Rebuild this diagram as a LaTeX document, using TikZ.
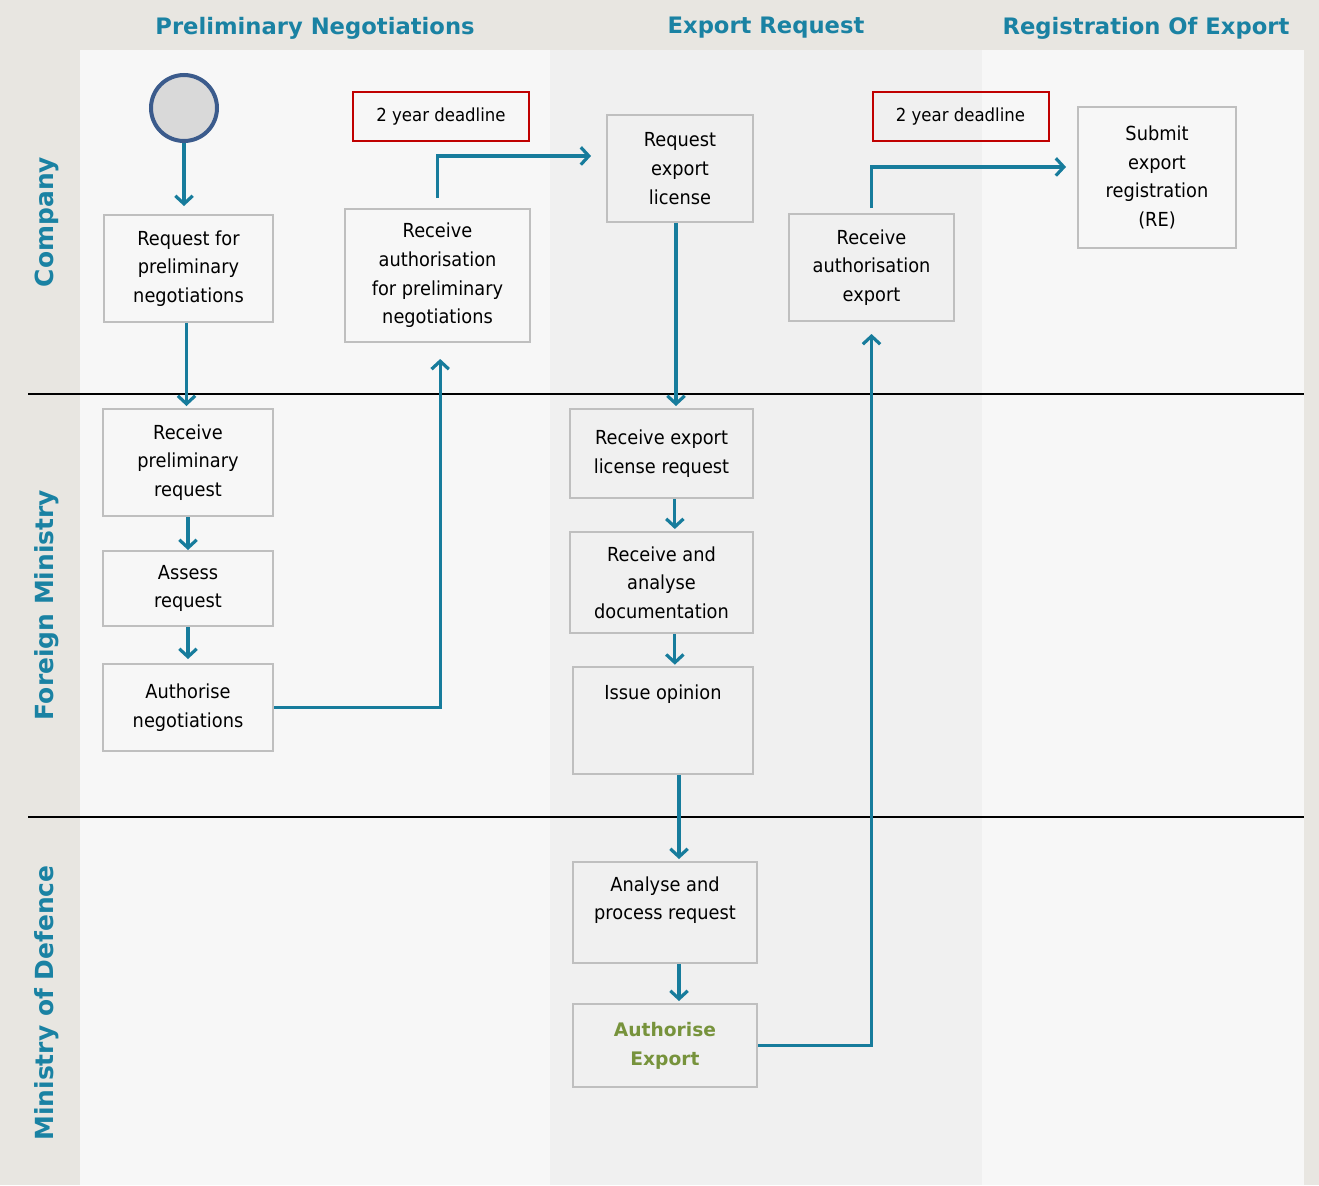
\documentclass[tikz,border=0pt]{standalone}
\usepackage{fontspec}
\setmainfont{DejaVu Sans}[FakeStretch=0.92]
\newfontfamily\headfont{DejaVu Sans}
\usetikzlibrary{arrows.meta}

\definecolor{flowblue}{HTML}{177C9C}
\definecolor{headblue}{HTML}{1A82A3}
\definecolor{boxgray}{HTML}{BFBFBF}
\definecolor{outerbg}{HTML}{E8E6E1}
\definecolor{lanebg}{HTML}{F7F7F7}
\definecolor{midbg}{HTML}{F0F0F0}
\definecolor{deadred}{HTML}{C00000}
\definecolor{okgreen}{HTML}{77933C}
\definecolor{startblue}{HTML}{3B5B8C}
\definecolor{startgray}{HTML}{D9D9D9}

\tikzset{every picture/.style={line width=0.75pt}}
\tikzset{
  task/.style={draw=boxgray, line width=1.5pt, align=center, inner sep=0pt, font=\fontsize{14.5}{21.5}\selectfont},
  deadline/.style={draw=deadred, line width=1.5pt, minimum width=132pt, minimum height=36.75pt, font=\fontsize{13.5}{15}\selectfont},
  flow/.style={draw=flowblue, line width=2.4pt, -{Straight Barb[length=6pt,width=13pt]}},
  coltitle/.style={text=headblue, inner sep=0pt, font=\headfont\bfseries\fontsize{17}{20}\selectfont},
  lanetitle/.style={text=headblue, inner sep=0pt, rotate=90, font=\headfont\bfseries\fontsize{18.7}{22}\selectfont},
}

\begin{document}
\begin{tikzpicture}[x=0.75pt,y=0.75pt,yscale=-1]
\useasboundingbox (0,0) rectangle (1319,1185);

%Background and lanes
\fill[outerbg] (0,0) rectangle (1319,1185);
\fill[lanebg] (80,50) rectangle (1304,1185);
\fill[midbg] (550,50) rectangle (982,1185);
%Straight Lines
\draw[line width=1.1pt] (28,394) -- (1304,394);
\draw[line width=1.1pt] (28,817) -- (1304,817);

% Column titles
\node[coltitle] (colPre) at (315,28) {Preliminary Negotiations};
\node[coltitle] (colReq) at (766,28) {Export Request};
\node[coltitle] (colReg) at (1146,28) {Registration Of Export};
% Lane titles
\node[lanetitle] (laneCo) at (47,222) {Company};
\node[lanetitle] (laneFM) at (47,605) {Foreign Ministry};
\node[lanetitle] (laneMD) at (47,1003) {Ministry of Defence};

%Start event
\node[circle, draw=startblue, fill=startgray, line width=3pt, minimum size=49.5pt] (start) at (184,108) {};

% Company lane
\node[task, minimum width=126.75pt, minimum height=80.25pt] (req) at (188.5,268.5) {Request for\\preliminary\\negotiations};
\node[task, minimum width=138.75pt, minimum height=99.75pt] (recAuth) at (437.5,275.5) {Receive\\authorisation\\for preliminary\\negotiations};
\node[deadline] (deadA) at (441,116.5) {2 year deadline};
\node[task, minimum width=109.5pt, minimum height=80.25pt] (reqExp) at (680,168.5) {Request\\export\\license};
\node[deadline] (deadB) at (960.5,116.5) {2 year deadline};
\node[task, minimum width=123.75pt, minimum height=80.25pt] (recAuthExp) at (871.5,267.5) {Receive\\authorisation\\export};
\node[task, minimum width=118.5pt, minimum height=105.75pt] (submit) at (1157,177.5) {Submit\\export\\registration\\(RE)};

% Foreign Ministry lane
\node[task, minimum width=127.5pt, minimum height=80.25pt] (recPre) at (188,462.5) {Receive\\preliminary\\request};
\node[task, minimum width=127.5pt, minimum height=56.25pt] (assess) at (188,588.5) {Assess\\request};
\node[task, minimum width=127.5pt, minimum height=65.25pt] (authNeg) at (188,707.5) {Authorise\\negotiations};
\node[task, minimum width=137.25pt, minimum height=66.75pt] (recExpLic) at (661.5,453.5) {Receive export\\license request};
\node[task, minimum width=137.25pt, minimum height=75.75pt] (recAnalyse) at (661.5,582.5) {Receive and\\analyse\\documentation};
\node[task, minimum width=135pt, minimum height=80.25pt] (issue) at (663,720.5) {Issue opinion\\~\\~};

% Ministry of Defence lane
\node[task, minimum width=138pt, minimum height=75.75pt] (analyse) at (665,912.5) {Analyse and\\process request\\~};
\node[task, minimum width=138pt, minimum height=62.25pt, text=okgreen, font=\headfont\bfseries\fontsize{14}{21.5}\selectfont] (authExp) at (665,1045.5) {Authorise\\Export};

%Connectors
\draw[flow, shorten >=6pt] (start) -- (start |- req.north);
\draw[flow, shorten >=1.5pt] ([xshift=-1.5pt]req.south) -- ([xshift=-1.5pt]req.south |- recPre.north);
\draw[flow] (recPre.south) -- (assess.north);
\draw[flow, shorten >=3pt] (assess.south) -- (authNeg.north);
\draw[flow, shorten >=12pt] (authNeg.east) -| ([xshift=2pt]recAuth.south);
\draw[flow, shorten <=7.5pt, shorten >=11.25pt] (recAuth.north) |- ([yshift=-9.4pt]reqExp.west);
\draw[flow, shorten >=1.5pt] ([xshift=-3pt]reqExp.south) -- ([xshift=-3pt]reqExp.south |- recExpLic.north);
\draw[flow, shorten >=1.5pt] ([xshift=10pt]recExpLic.south) -- ([xshift=10pt]recAnalyse.north);
\draw[flow, shorten >=1pt] ([xshift=10pt]recAnalyse.south) -- ([xshift=10pt]recAnalyse.south |- issue.north);
\draw[flow, shorten >=1.5pt] ([xshift=12pt]issue.south) -- ([xshift=12pt]issue.south |- analyse.north);
\draw[flow, shorten >=1.5pt] ([xshift=10.5pt]analyse.south) -- ([xshift=10.5pt]analyse.south |- authExp.north);
\draw[flow, shorten >=9pt] (authExp.east) -| (recAuthExp.south);
\draw[flow, shorten <=3.75pt, shorten >=8.25pt] (recAuthExp.north) |- ([yshift=-7.9pt]submit.west);

\end{tikzpicture}
\end{document}
